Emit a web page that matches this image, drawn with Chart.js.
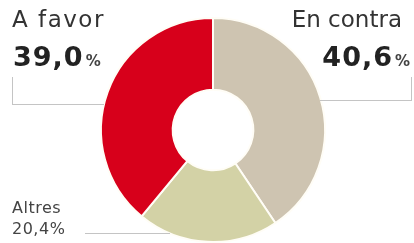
<!DOCTYPE html>
<html>
<head>
<meta charset="utf-8">
<script src="https://cdn.jsdelivr.net/npm/chart.js@4"></script>
<style>
  html, body { margin: 0; padding: 0; background: #fff; }
  #wrap { position: relative; width: 414px; height: 243px; overflow: hidden; font-family: 'DejaVu Sans', sans-serif; }
  canvas { position: absolute; left: 0; top: 0; }
  .lbl { position: absolute; color: #333; white-space: nowrap; line-height: 1; }
  .name { font-size: 23px; }
  .num { font-size: 27px; font-weight: bold; color: #222; letter-spacing: 1px; }
  .pct { font-size: 15px; font-weight: bold; color: #444; letter-spacing: 0; margin-left: 2px; }
  .small { font-size: 16px; color: #444; letter-spacing: 0.5px; line-height: 21px; }
  .ln { position: absolute; background: #c4c4c4; }
</style>
</head>
<body>
<div id="wrap">
  <canvas id="pie" width="414" height="243"></canvas>
  <div class="lbl name" id="favName" style="left:12px; top:8px; letter-spacing:1.5px;"></div>
  <div class="lbl num" id="favNum" style="left:13px; top:43px;"></div>
  <div class="lbl name" id="conName" style="right:12px; top:8px;"></div>
  <div class="lbl num" id="conNum" style="right:4px; top:43px;"></div>
  <div class="lbl small" id="altTxt" style="left:12px; top:197px;"></div>

  <div class="ln" style="left:12px; top:77px; width:1px; height:28px;"></div>
  <div class="ln" style="left:12px; top:104px; width:92px; height:1px;"></div>
  <div class="ln" style="left:320px; top:100px; width:92px; height:1px;"></div>
  <div class="ln" style="left:411px; top:77px; width:1px; height:24px;"></div>
  <div class="ln" style="left:85px; top:233px; width:85px; height:1px;"></div>
</div>
<script>
// clockwise from 12 o'clock
const categories = ['En contra', 'Altres', 'A favor'];
const values = [40.6, 20.4, 39.0];
const colors = ['#cec4b1', '#d3d2a6', '#d7001b'];

function fmt(v) {
    return v.toFixed(1).replace('.', ',');
}

document.getElementById('favName').innerText = categories[2];
document.getElementById('favNum').innerHTML = fmt(values[2]) + '<span class="pct">%</span>';
document.getElementById('conName').innerText = categories[0];
document.getElementById('conNum').innerHTML = fmt(values[0]) + '<span class="pct">%</span>';
document.getElementById('altTxt').innerHTML = categories[1] + '<br>' + fmt(values[1]) + '%';

const ctx = document.getElementById('pie').getContext('2d');
new Chart(ctx, {
    type: 'doughnut',
    data: {
        labels: categories,
        datasets: [{
            data: values,
            backgroundColor: colors,
            borderColor: '#fffdf6',
            borderWidth: 2
        }]
    },
    options: {
        responsive: false,
        animation: false,
        cutout: '36%',
        layout: { padding: { top: 17, left: 12 } },
        plugins: {
            legend: { display: false },
            tooltip: { enabled: false }
        }
    }
});
</script>
</body>
</html>
